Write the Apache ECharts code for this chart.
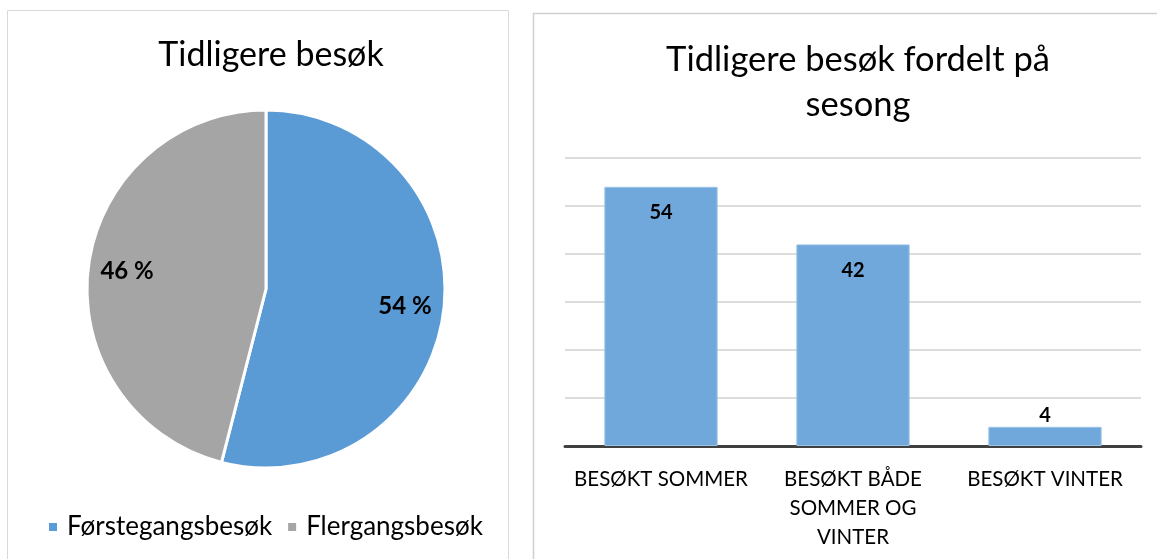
<!DOCTYPE html>
<html>
<head>
<meta charset="utf-8">
<script src="https://cdn.jsdelivr.net/npm/echarts@6/dist/echarts.min.js"></script>
<style>
	html, body { margin: 0; padding: 0; background: #fff; }
	#main { width: 1157px; height: 559px; }
</style>
</head>
<body>
<div id="main"></div>
<script>
// pie data (percent)
var pieNames = ['Førstegangsbesøk', 'Flergangsbesøk'];
var pieValues = [54, 46];
var pieColors = ['#5b9bd5', '#a5a5a5'];

// bar data
var barCategories = ['BESØKT SOMMER', 'BESØKT BÅDE\nSOMMER OG\nVINTER', 'BESØKT VINTER'];
var barValues = [54, 42, 4];

var font = 'Lato, "Open Sans", sans-serif';
var chart = echarts.init(document.getElementById('main'));

var pieData = pieNames.map(function(n, i) {
	return { name: n, value: pieValues[i], itemStyle: { color: pieColors[i] } };
});

var barData = barValues.map(function(v) {
	// small bars get their label above the bar
	return {
		value: v,
		label: v < 10 ? { position: 'top', distance: 1 } : { position: 'insideTop', distance: 16 }
	};
});

var option = {
	backgroundColor: '#fff',
	animation: false,
	graphic: [
		{ type: 'rect', shape: { x: 7.5, y: 10.5, width: 501, height: 560 }, style: { fill: 'none', stroke: '#d9d9d9', lineWidth: 1 } },
		{ type: 'rect', shape: { x: 533.5, y: 13.5, width: 640, height: 560 }, style: { fill: 'none', stroke: '#d0d0d0', lineWidth: 1.5 } }
	],
	title: [
		{
			text: 'Tidligere besøk',
			left: 266, top: 33, textAlign: 'center',
			textStyle: { fontFamily: font, fontSize: 34, fontWeight: 'normal', color: '#000' }
		},
		{
			text: 'Tidligere besøk fordelt på\nsesong',
			left: 853, top: 32, textAlign: 'center',
			textStyle: { fontFamily: font, fontSize: 34.5, fontWeight: 'normal', color: '#000', lineHeight: 45 }
		}
	],
	legend: {
		data: pieNames,
		left: 42, top: 509,
		icon: 'rect', itemWidth: 10, itemHeight: 10, itemGap: 14,
		textStyle: { fontFamily: font, fontSize: 26, color: '#000', padding: [0, 0, 0, 4] }
	},
	grid: { left: 565, width: 576, top: 158, height: 288 },
	xAxis: {
		type: 'category',
		data: barCategories,
		axisLine: { lineStyle: { color: '#404040', width: 3 } },
		axisTick: { show: false },
		axisLabel: { fontFamily: font, fontSize: 20.5, color: '#000', lineHeight: 29, margin: 19, interval: 0 }
	},
	yAxis: {
		type: 'value', min: 0, max: 60, interval: 10,
		axisLabel: { show: false },
		axisLine: { show: false },
		axisTick: { show: false },
		splitLine: { lineStyle: { color: '#d0d0d0', width: 1.5 } }
	},
	series: [
		{
			type: 'pie',
			center: [266, 289],
			radius: 179,
			startAngle: 90,
			clockwise: true,
			data: pieData,
			itemStyle: { borderColor: '#fff', borderWidth: 3 },
			label: { show: false },
			labelLine: { show: false }
		},
		{
			// transparent ring, only used to place the percent labels further out
			type: 'pie',
			center: [266, 289],
			radius: [95, 179],
			startAngle: 90,
			clockwise: true,
			silent: true,
			data: pieData.map(function(d) { return { name: d.name, value: d.value }; }),
			itemStyle: { color: 'rgba(0,0,0,0)' },
			label: {
				position: 'inside',
				formatter: '{c} %',
				fontFamily: font, fontSize: 24, fontWeight: 'bold', color: '#000'
			},
			labelLine: { show: false }
		},
		{
			type: 'bar',
			data: barData,
			barWidth: '59%',
			itemStyle: { color: '#70a8db', borderColor: '#9cc3e6', borderWidth: 1 },
			label: {
				show: true,
				fontFamily: font, fontSize: 20, fontWeight: 'bold', color: '#000'
			}
		}
	]
};

chart.setOption(option);
</script>
</body>
</html>
